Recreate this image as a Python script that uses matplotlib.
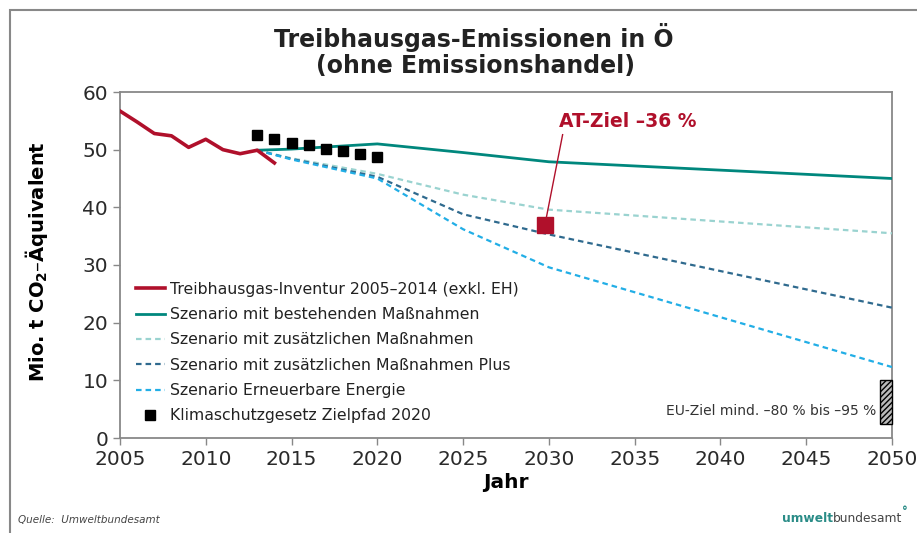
import numpy as np
import matplotlib
matplotlib.use("Agg")
import matplotlib.pyplot as plt
from matplotlib.patches import Rectangle

# inventory 2005-2014
inv_years = [2005, 2006, 2007, 2008, 2009, 2010, 2011, 2012, 2013, 2014]
inv_vals = [56.7, 54.8, 52.8, 52.4, 50.4, 51.8, 50.0, 49.3, 49.9, 47.7]

# scenarios
scen_years = [2013, 2015, 2020, 2025, 2030, 2050]
wem_vals = [49.9, 50.1, 51.0, 49.5, 47.9, 45.0]
wam_vals = [49.9, 48.5, 45.8, 42.2, 39.6, 35.5]
wamplus_vals = [49.9, 48.4, 45.3, 38.8, 35.3, 22.6]
re_vals = [49.9, 48.3, 45.0, 36.2, 29.6, 12.3]

# Klimaschutzgesetz target path
ksg_years = [2013, 2014, 2015, 2016, 2017, 2018, 2019, 2020]
ksg_vals = [52.5, 51.9, 51.2, 50.8, 50.2, 49.7, 49.2, 48.8]

at_target_year = 2029.8
at_target_val = 36.9
eu_target_range = [2.4, 10.0]

RED = '#B0102B'
TEAL = '#00877D'
LTEAL = '#9AD3D0'
DBLUE = '#2F6A8E'
LBLUE = '#22AEE6'

fig = plt.figure(figsize=(9.17, 5.33), dpi=100)
ax = fig.add_axes([120/917, 1-438/533, 772/917, 346/533])

ax.plot(inv_years, inv_vals, color=RED, lw=2.6, solid_joinstyle='round',
        label='Treibhausgas-Inventur 2005–2014 (exkl. EH)', zorder=5)
ax.plot(scen_years, wem_vals, color=TEAL, lw=2.0,
        label='Szenario mit bestehenden Maßnahmen', zorder=4)
ax.plot(scen_years, wam_vals, color=LTEAL, lw=1.6, ls=(0, (2.5, 1.8)),
        label='Szenario mit zusätzlichen Maßnahmen', zorder=3)
ax.plot(scen_years, wamplus_vals, color=DBLUE, lw=1.6, ls=(0, (2.5, 1.8)),
        label='Szenario mit zusätzlichen Maßnahmen Plus', zorder=3)
ax.plot(scen_years, re_vals, color=LBLUE, lw=1.6, ls=(0, (2.5, 1.8)),
        label='Szenario Erneuerbare Energie', zorder=3)
ax.plot(ksg_years, ksg_vals, ls='none', marker='s', ms=7, color='black',
        label='Klimaschutzgesetz Zielpfad 2020', zorder=6)

# AT target
ax.plot([at_target_year], [at_target_val], marker='s', ms=12, color=RED,
        ls='none', zorder=7)
ax.plot([2030.8, at_target_year + 0.05], [52.6, at_target_val + 1.3],
        color=RED, lw=1.0, zorder=7)
ax.text(2034.6, 54.9, 'AT-Ziel –36 %', color=RED, fontsize=13.5,
        fontweight='bold', ha='center', va='center')

# EU target box
ax.add_patch(Rectangle((2049.3, eu_target_range[0]), 0.7,
                       eu_target_range[1] - eu_target_range[0],
                       facecolor='#bbbbbb', edgecolor='black', hatch='//////',
                       lw=1.0, zorder=6, clip_on=False))
ax.text(2049.1, 4.7, 'EU-Ziel mind. –80 % bis –95 %', ha='right', va='center',
        fontsize=10, color='#333333')

ax.set_xlim(2005, 2050)
ax.set_ylim(0, 60)
ax.set_xticks(range(2005, 2051, 5))
ax.set_yticks(range(0, 61, 10))
ax.tick_params(labelsize=14.5, labelcolor='#2a2a2a', length=5, width=1,
               direction='out', color='#888888')
for s in ax.spines.values():
    s.set_color('#888888')
    s.set_linewidth(1.3)

ax.set_xlabel('Jahr', fontsize=14.5, fontweight='bold', labelpad=3)
fig.text(37/917, 1-262/533, r'Mio. t CO$_\mathbf{2}$–Äquivalent', fontsize=14,
         fontweight='bold', rotation=90, ha='center', va='center')

leg = ax.legend(loc='upper left', bbox_to_anchor=(10/772, 0.47), frameon=False,
                fontsize=11.3, handlelength=1.8, labelspacing=0.66,
                handletextpad=0.35, borderaxespad=0.0)
for t in leg.get_texts():
    t.set_color('#222222')

fig.text(474/917, 1-37/533, 'Treibhausgas-Emissionen in Ö', ha='center',
         va='center', fontsize=17, fontweight='bold', color='#222222')
fig.text(476/917, 1-66/533, '(ohne Emissionshandel)', ha='center',
         va='center', fontsize=17, fontweight='bold', color='#222222')

fig.text(18/917, 1-520/533, 'Quelle:  Umweltbundesamt', fontsize=7.5,
         style='italic', color='#444444', va='center')
t1 = fig.text(782/917, 1-518/533, 'umwelt', fontsize=8.8, fontweight='bold',
              color='#2A8C87', va='center')
fig.canvas.draw()
bb = t1.get_window_extent()
t2 = fig.text(bb.x1/917, 1-518/533, 'bundesamt', fontsize=8.8,
              color='#444444', va='center')
fig.canvas.draw()
bb2 = t2.get_window_extent()
fig.text(bb2.x1/917, 1-512/533, '°', fontsize=8.5, fontweight='bold',
         color='#2A8C87', va='center')

# outer frame
fig.add_artist(Rectangle((10/917, -0.1), 1.2, 1.1 - 10/533,
                         transform=fig.transFigure, fill=False,
                         edgecolor='#888888', lw=1.5))

fig.savefig('out.png', dpi=100)
